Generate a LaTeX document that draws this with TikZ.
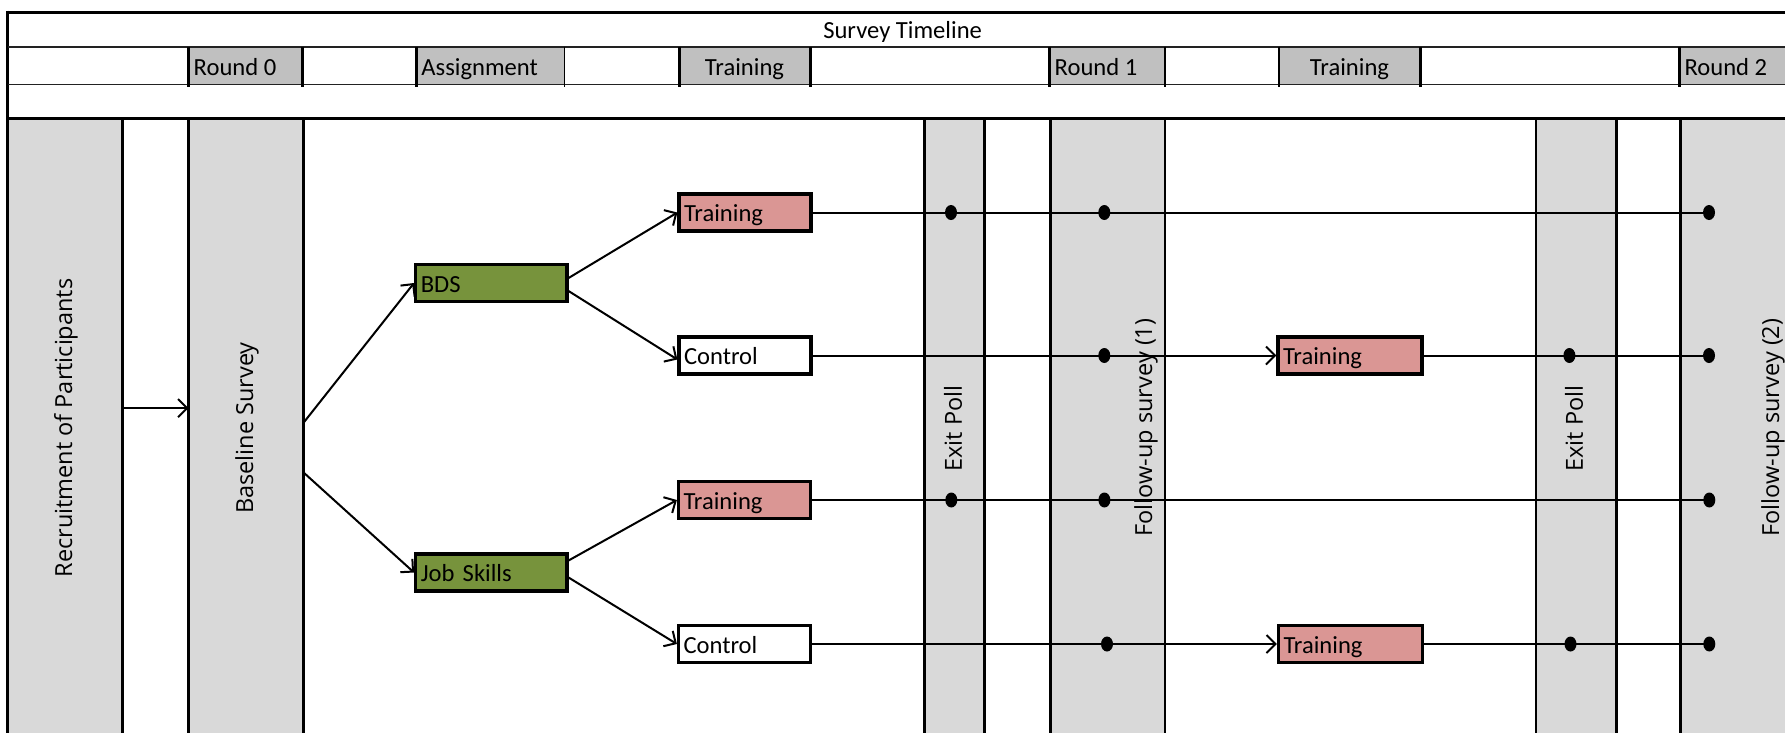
\documentclass[tikz,border=0pt]{standalone}
\usepackage{fontspec}
\setmainfont{Carlito}
\newfontfamily\rotfont{Open Sans}
\usetikzlibrary{arrows.meta,shapes.geometric}
\definecolor{colgray}{HTML}{D9D9D9}
\definecolor{hdrgray}{HTML}{C0C0C0}
\definecolor{trainred}{HTML}{DA9694}
\definecolor{grpgreen}{HTML}{77933C}
\definecolor{gridline}{HTML}{222222}
\begin{document}
\begin{tikzpicture}[x=1pt,y=-1pt,
  thickline/.style={line width=3pt, black},
  thinline/.style={line width=1.5pt, black},
  rowline/.style={line width=1.6pt, gridline},
  colfill/.style={fill=colgray, draw=none, inner sep=0pt, minimum height=620pt},
  hdrbox/.style={fill=hdrgray, draw=none, inner sep=0pt, minimum height=37.6pt},
  hdrtext/.style={font=\fontsize{24.6}{28}\selectfont, inner sep=0pt, anchor=west,
    text height=22pt, text depth=2pt},
  rottext/.style={font=\rotfont\fontsize{23.5}{28}\selectfont, rotate=90, inner sep=0pt},
  stepbox/.style={draw=black, line width=3.2pt, minimum width=132pt, minimum height=37pt,
    inner sep=0pt, text width=122pt, align=left, font=\fontsize{24.6}{28}\selectfont,
    text height=21pt, text depth=3pt},
  widebox/.style={stepbox, minimum width=144pt, text width=134pt},
  conn/.style={line width=2pt, black},
  arr/.style={line width=2pt, black, -{Straight Barb[length=9pt,width=18pt,line width=2pt]}},
  dotnode/.style={ellipse, fill=black, draw=none, minimum width=12pt, minimum height=15pt, inner sep=0pt},
]
\clip (0,0) rectangle (1785,732);
\fill[white] (0,0) rectangle (1785,732);

% body column fills
\node[colfill, minimum width=115pt] (rec) at (65.2,428.15) {};
\node[colfill, minimum width=114.3pt] (base) at (245.85,428.15) {};
\node[colfill, minimum width=60pt] (ep1) at (954,428.15) {};
\node[colfill, minimum width=115pt] (fu1) at (1107.5,428.15) {};
\node[colfill, minimum width=80pt] (ep2) at (1576,428.15) {};
\node[colfill, minimum width=110pt] (fu2) at (1735,428.15) {};

% header boxes
\node[hdrbox, minimum width=113.6pt] (hr0) at (245.5,65.5) {};
\node[hdrbox, minimum width=148.1pt] (has) at (490.45,65.5) {};
\node[hdrbox, minimum width=131pt] (htr1) at (744.5,65.5) {};
\node[hdrbox, minimum width=115.3pt] (hr1) at (1107.35,65.5) {};
\node[hdrbox, minimum width=141pt] (htr2) at (1349.5,65.5) {};
\node[hdrbox, minimum width=110.5pt] (hr2) at (1734.75,65.5) {};

% grid lines
\draw[thickline] (6.2,12) -- (1790,12);
\draw[line width=2.5pt] (7.7,10.5) -- (7.7,740);
\draw[rowline] (7.7,46.7) -- (1790,46.7);
\draw[rowline] (7.7,84.3) -- (1790,84.3);
\draw[thickline] (7.7,118.3) -- (1790,118.3);
\foreach \xx in {188.7,302.3,416.4,679,810,1049.7,1420,1679.5}
  \draw[thickline] (\xx,46.7) -- (\xx,87);
\foreach \xx in {564.5,1165,1279}
  \draw[thinline] (\xx,46.7) -- (\xx,87);
\foreach \xx in {122.7,188.7,303,924,984,1050,1616,1680}
  \draw[thickline] (\xx,118.3) -- (\xx,740);
\foreach \xx in {1165,1536}
  \draw[thinline] (\xx,118.3) -- (\xx,740);

% header texts
\node[hdrtext, anchor=center] (title) at (902.6,28.5) {Survey Timeline};
\node[hdrtext] (tr0) at ([xshift=5pt]hr0.west) {Round 0};
\node[hdrtext] (tas) at ([xshift=5pt]has.west) {Assignment};
\node[hdrtext, anchor=center] (ttr1) at (htr1.center) {Training};
\node[hdrtext] (tr1) at ([xshift=5pt]hr1.west) {Round 1};
\node[hdrtext, anchor=center] (ttr2) at (htr2.center) {Training};
\node[hdrtext] (tr2) at ([xshift=5pt]hr2.west) {Round 2};

% rotated column labels
\node[rottext] (lrec) at (66,428) {Recruitment of Participants};
\node[rottext] (lbase) at (247,428) {Baseline Survey};
\node[rottext] (lep1) at (953,428.5) {Exit Poll};
\node[rottext] (lfu1) at (1146,427.5) {Follow-up survey (1)};
\node[rottext] (lep2) at (1574,428.5) {Exit Poll};
\node[rottext] (lfu2) at (1773,427.5) {Follow-up survey (2)};

% step nodes
\node[stepbox, fill=grpgreen, minimum width=151.3pt, text width=141pt] (bds) at (491.3,283) {BDS};
\node[stepbox, fill=grpgreen, minimum width=151.3pt, text width=141pt] (js) at (491.3,572.5) {Job Skills};
\node[stepbox, fill=trainred] (t1) at (745,212.5) {Training};
\node[stepbox, fill=white] (c1) at (745,355.5) {Control};
\node[stepbox, fill=trainred] (t2) at (744.5,500) {Training};
\node[stepbox, fill=white] (c2) at (744.5,644) {Control};
\node[widebox, fill=trainred] (t3) at (1350,355.5) {Training};
\node[widebox, fill=trainred] (t4) at (1350.5,644) {Training};

% dots
\node[dotnode] (d11) at (951,212.5) {};
\node[dotnode] (d12) at (1104.3,212.5) {};
\node[dotnode] (d13) at (1709,212.5) {};
\node[dotnode] (d21) at (1104.3,355.5) {};
\node[dotnode] (d22) at (1569.4,355.5) {};
\node[dotnode] (d23) at (1709,355.5) {};
\node[dotnode] (d31) at (951.3,500) {};
\node[dotnode] (d32) at (1104.4,500) {};
\node[dotnode] (d33) at (1709.3,500) {};
\node[dotnode] (d41) at (1107,644) {};
\node[dotnode] (d42) at (1570.5,644) {};
\node[dotnode] (d43) at (1709.3,644) {};

% connectors
\draw[arr] ([yshift=20pt]rec.east) -- ([yshift=20pt]base.west);
\draw[arr] ([yshift=5pt]base.east) -- (bds.west);
\draw[arr] ([yshift=-44pt]base.east) -- (js.west);
\draw[arr] ([yshift=5pt]bds.east) -- (t1.west);
\draw[arr] ([yshift=-8pt]bds.east) -- ([yshift=-4pt]c1.west);
\draw[arr] ([yshift=12pt]js.east) -- (t2.west);
\draw[arr] ([yshift=-5pt]js.east) -- (c2.west);
\draw[conn] (t1.east) -- (d13.center);
\draw[arr] (c1.east) -- (t3.west);
\draw[conn] (t3.east) -- (d23.center);
\draw[conn] (t2.east) -- (d33.center);
\draw[arr] (c2.east) -- (t4.west);
\draw[conn] (t4.east) -- (d43.center);
\end{tikzpicture}
\end{document}
